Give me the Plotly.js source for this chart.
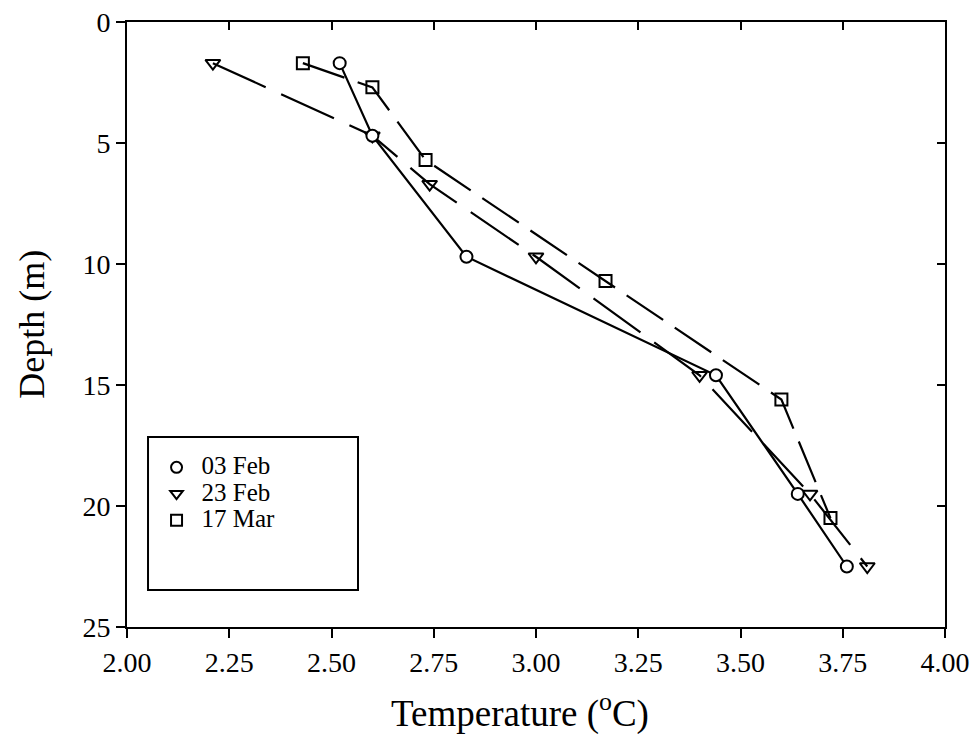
<!DOCTYPE html>
<html>
<head>
<meta charset="utf-8">
<script src="https://cdn.plot.ly/plotly-3.0.1.min.js"></script>
<style>
  html, body { margin: 0; padding: 0; background: #fff; }
  #chart { width: 974px; height: 734px; }
</style>
</head>
<body>
<div id="chart"></div>
<script>
// Temperature profiles (deg C) against depth (m) on three dates
const feb03Temp  = [2.52, 2.60, 2.83, 3.44, 3.64, 3.76];
const feb03Depth = [1.7, 4.7, 9.7, 14.6, 19.5, 22.5];

const feb23Temp  = [2.21, 2.60, 2.74, 3.00, 3.40, 3.67, 3.81];
const feb23Depth = [1.7, 4.7, 6.7, 9.7, 14.6, 19.5, 22.5];

const mar17Temp  = [2.43, 2.60, 2.73, 3.17, 3.60, 3.72];
const mar17Depth = [1.7, 2.7, 5.7, 10.7, 15.6, 20.5];

const seriesNames = ['03 Feb', '23 Feb', '17 Mar'];
const xTicks = [2.00, 2.25, 2.50, 2.75, 3.00, 3.25, 3.50, 3.75, 4.00];
const yTicks = [0, 5, 10, 15, 20, 25];

const FONT = 'Liberation Serif, Times New Roman, serif';
const INK = '#000';

function profile(x, y, dash, symbol, fill) {
  return {
    x: x, y: y, type: 'scatter', mode: 'lines+markers',
    showlegend: false, hoverinfo: 'skip',
    line: { color: INK, width: 2.2, dash: dash },
    marker: { symbol: symbol, size: symbol.indexOf('triangle') === 0 ? 13 : 12,
              color: fill, line: { color: INK, width: 2 } }
  };
}

// legend entries show the symbol only; they live on the framing axes (top/right)
function key(name, symbol) {
  return {
    x: [null], y: [null], xaxis: 'x2', yaxis: 'y2',
    type: 'scatter', mode: 'markers', hoverinfo: 'skip',
    name: '<span style="font-size:25px">' + name + '</span>',
    marker: { symbol: symbol, size: 11, color: INK, line: { color: INK, width: 2 } }
  };
}

const data = [
  profile(feb23Temp, feb23Depth, '58px,17px', 'triangle-down-open', INK),
  profile(mar17Temp, mar17Depth, '44px,14px', 'square-open', INK),
  profile(feb03Temp, feb03Depth, 'solid', 'circle', '#fff'),
  key(seriesNames[0], 'circle-open'),
  key(seriesNames[1], 'triangle-down-open'),
  key(seriesNames[2], 'square-open')
];

const axisCommon = {
  showline: true, linecolor: INK, linewidth: 2,
  showgrid: false, zeroline: false,
  tickcolor: INK, tickwidth: 2,
  tickfont: { family: FONT, size: 28, color: INK }
};

const layout = {
  width: 974, height: 734,
  margin: { l: 127, r: 29, t: 22, b: 107 },
  paper_bgcolor: '#fff', plot_bgcolor: '#fff',
  showlegend: true,
  font: { family: FONT, color: INK },
  xaxis: Object.assign({}, axisCommon, {
    range: [2, 4], tickvals: xTicks, ticktext: xTicks.map(v => v.toFixed(2)),
    ticks: 'outside', ticklen: 9
  }),
  yaxis: Object.assign({}, axisCommon, {
    range: [25, 0], tickvals: yTicks, ticktext: yTicks.map(String),
    ticks: 'outside', ticklen: 9
  }),
  xaxis2: Object.assign({}, axisCommon, {
    overlaying: 'x', side: 'top', anchor: 'y2', range: [2, 4],
    tickvals: xTicks, ticks: 'inside', ticklen: 8, showticklabels: false
  }),
  yaxis2: Object.assign({}, axisCommon, {
    overlaying: 'y', side: 'right', anchor: 'x2', range: [25, 0],
    tickvals: yTicks, ticks: 'inside', ticklen: 8, showticklabels: false
  }),
  annotations: [
    {
      text: 'Temperature (<sup>o</sup>C)', xref: 'paper', yref: 'paper',
      x: 0.481, y: -0.139, xanchor: 'center', yanchor: 'middle', showarrow: false,
      font: { family: FONT, size: 37, color: INK }
    },
    {
      text: 'Depth (m)', xref: 'paper', yref: 'paper', textangle: -90,
      x: -0.117, y: 0.5, xanchor: 'center', yanchor: 'middle', showarrow: false,
      font: { family: FONT, size: 36, color: INK }
    }
  ],
  legend: {
    x: 0.030, y: 0.294, xanchor: 'left', yanchor: 'top',
    bgcolor: 'rgba(0,0,0,0)', borderwidth: 0,
    font: { family: FONT, size: 18, color: INK },
    itemwidth: 40, tracegroupgap: 0
  },
  shapes: [{
    type: 'rect', xref: 'paper', yref: 'paper',
    x0: 0.0257, x1: 0.2824, y0: 0.0612, y1: 0.314,
    line: { color: INK, width: 2 }, fillcolor: 'rgba(0,0,0,0)', layer: 'below'
  }]
};

Plotly.newPlot('chart', data, layout, { displayModeBar: false, staticPlot: true });
</script>
</body>
</html>
